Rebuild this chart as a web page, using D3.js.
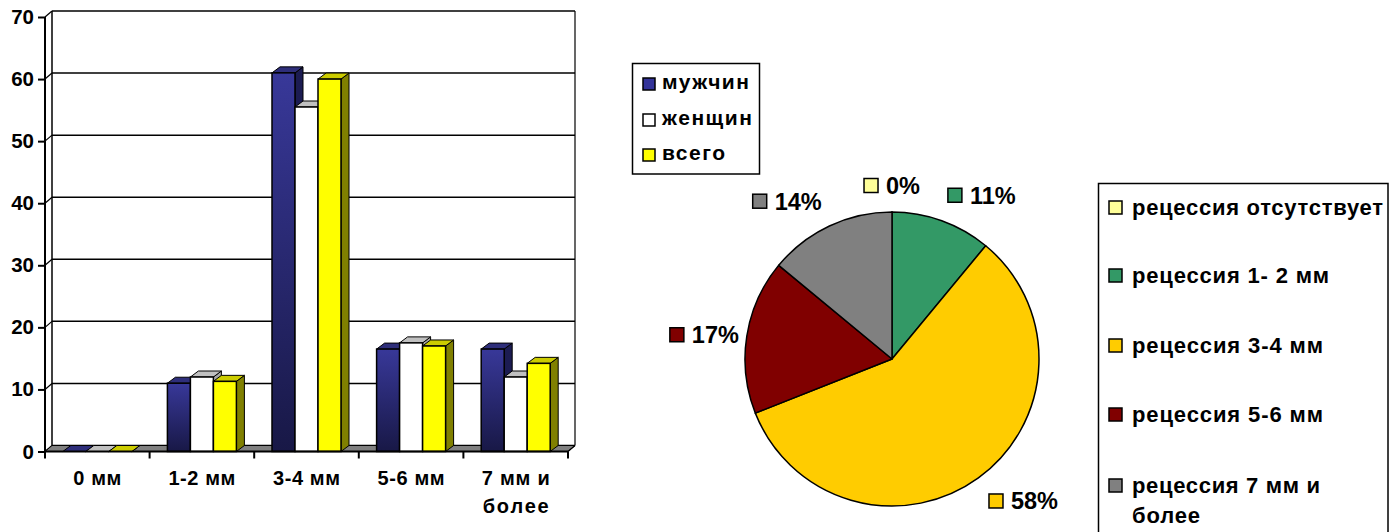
<!DOCTYPE html>
<html>
<head>
<meta charset="utf-8">
<script src="https://cdn.jsdelivr.net/npm/d3@7"></script>
<style>
  html, body { margin: 0; padding: 0; background: #fff; }
  svg { display: block; font-family: "Liberation Sans", Arial, sans-serif; font-weight: bold; }
</style>
</head>
<body>
<svg id="chart" width="1392" height="532"></svg>
<script>
// Recession depth groups (bar chart categories)
const categories = ["0 мм", "1-2 мм", "3-4 мм", "5-6 мм", "7 мм и более"];
const seriesNames = ["мужчин", "женщин", "всего"];
const menValues = [0, 11, 61, 16.5, 16.5];
const womenValues = [0, 12, 55.5, 17.5, 12];
const totalValues = [0, 11.3, 60, 17, 14.2];
const yTicks = [0, 10, 20, 30, 40, 50, 60, 70];

// Pie: share of each recession group
const pieLabels = ["рецессия отсутствует", "рецессия 1- 2 мм", "рецессия 3-4 мм", "рецессия 5-6 мм", "рецессия 7 мм и более"];
const pieValues = [0, 11, 58, 17, 14];
const pieColors = ["#ffff99", "#339966", "#ffcc00", "#800000", "#808080"];

// Wrapped lines and the wide letter spacing used by the label typography
const wrap = {
  "7 мм и более": ["7 мм и", "более"],
  "рецессия 7 мм и более": ["рецессия 7 мм и", "более"]
};
const textWidth = {
  "0 мм": 48, "1-2 мм": 67, "3-4 мм": 67, "5-6 мм": 67, "7 мм и": 68, "более": 66,
  "мужчин": 87, "женщин": 90, "всего": 63,
  "рецессия отсутствует": 251, "рецессия 1- 2 мм": 197, "рецессия 3-4 мм": 191,
  "рецессия 5-6 мм": 191, "рецессия 7 мм и": 188, "более ": 68
};

const svg = d3.select("#chart");

function spacedText(sel, str, key) {
  const t = sel.text(str);
  const w = textWidth[key || str];
  if (w) t.attr("textLength", w).attr("lengthAdjust", "spacing");
  return t;
}

// ---------- 3D clustered column chart ----------
const plotL = 45, plotR = 568, plotB = 451.5, plotT = 17;
const dx = 7, dy = -6;             // depth offset of back wall
const bdx = 8, bdy = -6;           // depth offset of each bar

const y = d3.scaleLinear().domain([0, 70]).range([plotB, plotT]);
const x = d3.scaleBand().domain(categories).range([plotL, plotR]).paddingInner(0).paddingOuter(0);
const groupW = 69;
const xs = d3.scaleBand().domain(seriesNames).range([0, groupW]).padding(0);

const defs = svg.append("defs");
const grad = defs.append("linearGradient").attr("id", "navy").attr("x1", 0).attr("y1", 0).attr("x2", 0).attr("y2", 1);
grad.append("stop").attr("offset", "0%").attr("stop-color", "#383899");
grad.append("stop").attr("offset", "100%").attr("stop-color", "#181846");

const seriesStyle = {
  "мужчин": { front: "url(#navy)", face: "#2e2e7a", side: "#1c1c52", swatch: "#333399" },
  "женщин": { front: "#ffffff", face: "#c0c0c0", side: "#a6a6a6", swatch: "#ffffff" },
  "всего":  { front: "#ffff00", face: "#cccc00", side: "#808000", swatch: "#ffff00" }
};
const seriesData = { "мужчин": menValues, "женщин": womenValues, "всего": totalValues };

const bar = svg.append("g");

// back wall gridlines and connectors to the front axis
yTicks.forEach(t => {
  const yy = y(t);
  bar.append("line").attr("x1", plotL + dx).attr("x2", plotR + dx).attr("y1", yy + dy).attr("y2", yy + dy)
    .attr("stroke", "#000").attr("stroke-width", 1.5);
  bar.append("line").attr("x1", plotL).attr("x2", plotL + dx).attr("y1", yy).attr("y2", yy + dy)
    .attr("stroke", "#000").attr("stroke-width", 1.2);
});
// back wall edges
bar.append("line").attr("x1", plotL + dx).attr("x2", plotL + dx).attr("y1", y(70) + dy).attr("y2", plotB + dy)
  .attr("stroke", "#000").attr("stroke-width", 1.5);
bar.append("line").attr("x1", plotR + dx).attr("x2", plotR + dx).attr("y1", y(70) + dy).attr("y2", plotB + dy)
  .attr("stroke", "#000").attr("stroke-width", 1.2);

// floor
bar.append("path")
  .attr("d", `M${plotL},${plotB}L${plotR},${plotB}L${plotR + dx},${plotB + dy}L${plotL + dx},${plotB + dy}Z`)
  .attr("fill", "#808080").attr("stroke", "#000").attr("stroke-width", 1);

// bars, drawn left to right so each front hides the previous side
categories.forEach((c, ci) => {
  const gx = x(c) + (x.bandwidth() - groupW) / 2;
  seriesNames.forEach(s => {
    const v = seriesData[s][ci];
    const st = seriesStyle[s];
    const x0 = gx + xs(s), x1 = x0 + xs.bandwidth();
    const yt = y(v), yb = y(0);
    // side face
    bar.append("path")
      .attr("d", `M${x1},${yb}L${x1 + bdx},${yb + bdy}L${x1 + bdx},${yt + bdy}L${x1},${yt}Z`)
      .attr("fill", st.side).attr("stroke", "#000").attr("stroke-width", 1).attr("stroke-linejoin", "round");
    // top face
    bar.append("path")
      .attr("d", `M${x0},${yt}L${x1},${yt}L${x1 + bdx},${yt + bdy}L${x0 + bdx},${yt + bdy}Z`)
      .attr("fill", st.face).attr("stroke", "#000").attr("stroke-width", 1).attr("stroke-linejoin", "round");
    // front face
    if (v > 0) {
      bar.append("rect").attr("x", x0).attr("y", yt).attr("width", x1 - x0).attr("height", yb - yt)
        .attr("fill", st.front).attr("stroke", "#000").attr("stroke-width", 1.5);
    }
  });
});

// front value axis
bar.append("line").attr("x1", plotL).attr("x2", plotL).attr("y1", y(70)).attr("y2", plotB)
  .attr("stroke", "#000").attr("stroke-width", 2);
const yAxis = d3.axisLeft(y).tickValues(yTicks).tickSize(7).tickPadding(4).tickFormat(d3.format("d"));
const yg = bar.append("g").attr("transform", `translate(${plotL},0)`).call(yAxis);
yg.select(".domain").remove();
yg.selectAll(".tick line").attr("stroke", "#000").attr("stroke-width", 2);
yg.selectAll(".tick text").attr("font-size", 20.5).attr("font-weight", "bold").attr("fill", "#000")
  .attr("font-family", "Liberation Sans, Arial, sans-serif");

// category axis
bar.append("line").attr("x1", plotL).attr("x2", plotR).attr("y1", plotB).attr("y2", plotB)
  .attr("stroke", "#000").attr("stroke-width", 2);
bar.append("line").attr("x1", plotR).attr("x2", plotR + dx).attr("y1", plotB).attr("y2", plotB + dy)
  .attr("stroke", "#000").attr("stroke-width", 1.2);
const bounds = categories.map(c => x(c)).concat([plotR]);
bounds.forEach(b => {
  bar.append("line").attr("x1", b).attr("x2", b).attr("y1", plotB).attr("y2", plotB + 7)
    .attr("stroke", "#000").attr("stroke-width", 2);
});
categories.forEach(c => {
  const lines = wrap[c] || [c];
  lines.forEach((l, i) => {
    spacedText(bar.append("text").attr("x", x(c) + x.bandwidth() / 2).attr("y", 485 + i * 28)
      .attr("text-anchor", "middle").attr("font-size", 20).attr("fill", "#000"), l);
  });
});

// series legend
const lg = svg.append("g");
lg.append("rect").attr("x", 632.5).attr("y", 63.5).attr("width", 127).attr("height", 110.5)
  .attr("fill", "#fff").attr("stroke", "#000").attr("stroke-width", 1.5);
seriesNames.forEach((s, i) => {
  const by = [89, 125, 160][i];
  lg.append("rect").attr("x", 643).attr("y", by - 11).attr("width", 12).attr("height", 12)
    .attr("fill", seriesStyle[s].swatch).attr("stroke", "#000").attr("stroke-width", 1.5);
  spacedText(lg.append("text").attr("x", 662).attr("y", by).attr("font-size", 21).attr("fill", "#000"), s);
});

// ---------- pie chart ----------
const cx = 892, cy = 359, r = 147;
const pie = d3.pie().sort(null).value(d => d).startAngle(0).endAngle(2 * Math.PI);
const arcs = pie(pieValues);
const arc = d3.arc().innerRadius(0).outerRadius(r);
const pg = svg.append("g").attr("transform", `translate(${cx},${cy})`);
pg.selectAll("path").data(arcs).join("path")
  .attr("d", arc)
  .attr("fill", (d, i) => pieColors[i])
  .attr("stroke", "#000").attr("stroke-width", 1.5).attr("stroke-linejoin", "round");

// percentage labels placed just outside each slice
arcs.forEach((a, i) => {
  const mid = (a.startAngle + a.endAngle) / 2;
  const sx = Math.sin(mid), sy = -Math.cos(mid);
  const labelR = Math.abs(sy) < 0.3 ? r + 8 : r + 18;
  const px = cx + sx * labelR, py = cy + sy * labelR;
  const txt = d3.format(".0%")(pieValues[i] / 100);
  const g = svg.append("g");
  const t = g.append("text").attr("font-size", 23.5).attr("fill", "#000").text(txt);
  const tw = t.node().getComputedTextLength();
  const boxW = 14 + 8 + tw, boxH = 17;
  const bx = sx > 0.3 ? px : (sx < -0.3 ? px - boxW : px - boxW / 2);
  const byTop = sy < -0.3 ? py - boxH : (sy > 0.3 ? py : py - boxH / 2);
  g.append("rect").attr("x", bx).attr("y", byTop + 1.5).attr("width", 14).attr("height", 14)
    .attr("fill", pieColors[i]).attr("stroke", "#000").attr("stroke-width", 1.5);
  t.attr("x", bx + 22).attr("y", byTop + boxH);
});

// category legend
const pl = svg.append("g");
pl.append("rect").attr("x", 1098.5).attr("y", 183.5).attr("width", 289.5).attr("height", 360)
  .attr("fill", "#fff").attr("stroke", "#000").attr("stroke-width", 1.5);
pieLabels.forEach((lab, i) => {
  const by = [215, 283, 353, 422, 493][i];
  pl.append("rect").attr("x", 1109).attr("y", by - 14).attr("width", 13).attr("height", 13)
    .attr("fill", pieColors[i]).attr("stroke", "#000").attr("stroke-width", 1.5);
  const lines = wrap[lab] || [lab];
  lines.forEach((l, k) => {
    spacedText(pl.append("text").attr("x", 1132).attr("y", by + k * 30).attr("font-size", 22).attr("fill", "#000"),
      l, k > 0 ? l + " " : l);
  });
});
</script>
</body>
</html>
